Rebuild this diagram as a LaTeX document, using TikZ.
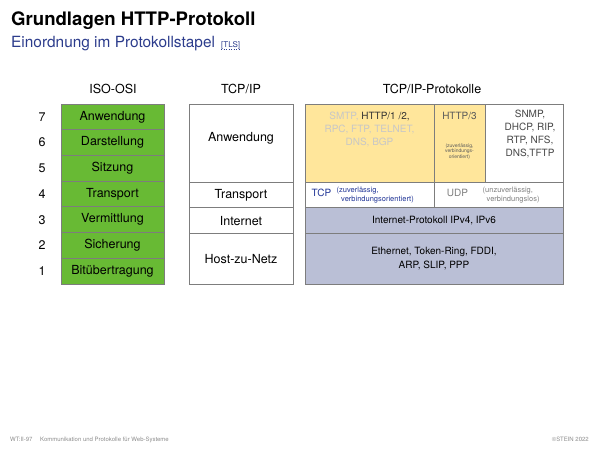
\documentclass[tikz,border=0pt]{standalone}
\usepackage{fontspec}
\setmainfont{TeX Gyre Heros}

\definecolor{osigreen}{RGB}{104,186,52}
\definecolor{protyellow}{RGB}{255,230,155}
\definecolor{netblue}{RGB}{186,191,214}
\definecolor{titleblue}{RGB}{44,60,140}
\definecolor{tcpblue}{RGB}{32,52,150}
\definecolor{boxgray}{RGB}{125,125,125}
\definecolor{footgray}{RGB}{140,140,140}

\tikzset{
  layer/.style={draw=boxgray, line width=0.8pt, inner sep=0pt},
  osilayer/.style={layer, fill=osigreen, minimum width=103pt, minimum height=25.7pt, font=\fontsize{12.5}{14}\selectfont},
  tcplayer/.style={layer, fill=white, minimum width=104pt, font=\fontsize{12.5}{14}\selectfont},
  bigtext/.style={inner sep=0pt, font=\fontsize{12.5}{14}\selectfont},
  prottext/.style={inner sep=0pt, align=center, font=\fontsize{10}{12.8}\selectfont},
  notetext/.style={inner sep=0pt, align=left, font=\fontsize{7.5}{9.5}\selectfont},
  foottext/.style={inner sep=0pt, anchor=base west, text=footgray, font=\fontsize{6}{7}\selectfont}
}

\begin{document}
\begin{tikzpicture}[x=1pt,y=1pt,yscale=-1,xscale=1]
	\useasboundingbox (0,0) rectangle (600,450);
	
	% Title
	\node [inner sep=0pt, anchor=base west, font=\fontsize{18.6}{20}\selectfont\bfseries] (title) at (11,25) {Grundlagen HTTP-Protokoll};
	\node [inner sep=0pt, anchor=base west, text=titleblue, font=\fontsize{15.4}{17}\selectfont] (subtitle) at (11,47) {Einordnung im Protokollstapel};
	\node [inner sep=0pt, anchor=base west, text=titleblue, font=\fontsize{8}{9}\selectfont] (tls) at (221,47) {[TLS]};
	\draw [titleblue, dotted, line width=0.5pt] ([yshift=2.5pt]tls.base west) -- ([yshift=2.5pt]tls.base east);
	
	% Column heads
	\node [bigtext] (headosi) at (113,89) {ISO-OSI};
	\node [bigtext] (headtcp) at (241,89) {TCP/IP};
	\node [bigtext] (headprot) at (432,89) {TCP/IP-Protokolle};
	
	% Layer numbers
	\node [bigtext] (num7) at (42,116.9) {7};
	\node [bigtext] (num6) at (42,142.6) {6};
	\node [bigtext] (num5) at (42,168.3) {5};
	\node [bigtext] (num4) at (42,194.0) {4};
	\node [bigtext] (num3) at (42,219.7) {3};
	\node [bigtext] (num2) at (42,245.4) {2};
	\node [bigtext] (num1) at (42,271.1) {1};
	
	% ISO-OSI layers
	\node [osilayer] (osi7) at (112.5,116.9) {Anwendung};
	\node [osilayer] (osi6) at (112.5,142.6) {Darstellung};
	\node [osilayer] (osi5) at (112.5,168.3) {Sitzung};
	\node [osilayer] (osi4) at (112.5,194.0) {Transport};
	\node [osilayer] (osi3) at (112.5,219.7) {Vermittlung};
	\node [osilayer] (osi2) at (112.5,245.4) {Sicherung};
	\node [osilayer] (osi1) at (112.5,271.1) {Bitübertragung};
	
	% TCP/IP layers
	\node [tcplayer, minimum height=78pt] (tcpapp) at (241,143) {};
	\node [bigtext] (tcpapptext) at (241,138) {Anwendung};
	\node [tcplayer, minimum height=25.7pt] (tcptrans) at (241,194.9) {Transport};
	\node [tcplayer, minimum height=25.7pt] (tcpnet) at (241,220.6) {Internet};
	\node [tcplayer, minimum height=50.6pt] (tcphost) at (241,258.7) {Host-zu-Netz};
	
	% Application protocols
	\node [layer, fill=protyellow, minimum width=129pt, minimum height=78pt] (appleft) at (369.5,143) {};
	\node [prottext, anchor=north, text=black!22] (applefttext) at (369.5,112) {SMTP, {\color{black!80}HTTP/1 /2,}\\RPC, FTP, TELNET,\\DNS, BGP};
	\node [layer, fill=protyellow, minimum width=51pt, minimum height=78pt] (appquic) at (459.5,143) {};
	\node [prottext, text=black!65] (appquictext) at (459.5,116) {HTTP/3};
	\node [inner sep=0pt, align=center, text=black!65, font=\fontsize{5}{5.6}\selectfont] (appquicnote) at (459.5,151.5) {(zuverlässig,\\verbindungs-\\orientiert)};
	\node [layer, fill=white, minimum width=78pt, minimum height=78pt] (appright) at (524,143) {};
	\node [prottext, text=black!72, font=\fontsize{10}{13}\selectfont] (apprighttext) at (530,133.5) {SNMP,\\DHCP, RIP,\\RTP, NFS,\\DNS,TFTP};
	
	% Transport protocols
	\node [layer, fill=white, minimum width=129pt, minimum height=25.7pt] (tcpcell) at (369.5,194.9) {};
	\node [prottext, text=tcpblue] (tcptext) at (321.5,193) {TCP};
	\node [notetext, anchor=west, text=tcpblue] (tcpnote) at (336.5,195) {(zuverlässig,\\\hspace*{4.5pt}verbindungsorientiert)};
	\node [layer, fill=white, minimum width=129pt, minimum height=25.7pt] (udpcell) at (498.5,194.9) {};
	\node [prottext, text=black!50] (udptext) at (457.5,193) {UDP};
	\node [notetext, anchor=west, text=black!50] (udpnote) at (482.5,195) {(unzuverlässig,\\\hspace*{4pt}verbindungslos)};
	
	% Network protocols
	\node [layer, fill=netblue, minimum width=258pt, minimum height=25.7pt, prottext] (ipcell) at (434,220.6) {Internet-Protokoll IPv4, IPv6};
	\node [layer, fill=netblue, minimum width=258pt, minimum height=50.6pt, prottext, font=\fontsize{10}{14}\selectfont] (linkcell) at (434,258.7) {Ethernet, Token-Ring, FDDI,\\ARP, SLIP, PPP};
	
	% Footer
	\node [foottext] (footid) at (10,441) {WT:II-97};
	\node [foottext] (foottitle) at (40,441) {Kommunikation und Protokolle für Web-Systeme};
	\node [foottext, anchor=base east] (footcopy) at (589,441) {©STEIN 2022};
\end{tikzpicture}
\end{document}
